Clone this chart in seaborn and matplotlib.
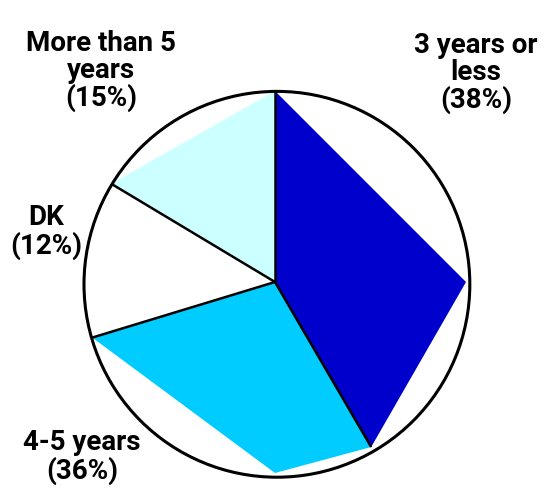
import numpy as np
import matplotlib
matplotlib.use("Agg")
import matplotlib.pyplot as plt
from matplotlib.patches import Circle
import seaborn as sns

# ---- data ----
categories = ["3 years or less", "4-5 years", "DK", "More than 5 years"]
label_names = ["3 years or\nless", "4-5 years", "DK", "More than 5\nyears"]
label_pct = [38, 36, 12, 15]
# wedge sizes as drawn in the picture (share of the full circle, %)
drawn_shares = [41.6, 28.7, 13.3, 16.4]
colors = ["#0000CC", "#00CCFF", "#FFFFFF", "#CCFFFF"]

sns.set_theme(style="white")
plt.rcParams["font.family"] = ["Roboto", "DejaVu Sans"]

W, H, DPI = 550, 488, 100
fig = plt.figure(figsize=(W / DPI, H / DPI), dpi=DPI)
ax = fig.add_axes([0, 0, 1, 1])
R_PX = 191.0
cx_px, cy_px = 275.0, 282.0
ax.set_xlim(-cx_px / R_PX, (W - cx_px) / R_PX)
ax.set_ylim(-(H - cy_px) / R_PX, cy_px / R_PX)
ax.set_axis_off()

def pt(theta_deg):
    # clockwise from top
    t = np.deg2rad(theta_deg)
    return np.sin(t), np.cos(t)

fracs = np.array(drawn_shares) / np.sum(drawn_shares)
bounds = np.concatenate([[0], np.cumsum(fracs) * 360])

for i, col in enumerate(colors):
    a0, a1 = bounds[i], bounds[i + 1]
    angs = [a0] + [q for q in (90, 180, 270) if a0 < q < a1] + [a1]
    xs = [0] + [pt(a)[0] for a in angs]
    ys = [0] + [pt(a)[1] for a in angs]
    ax.fill(xs, ys, color=col, lw=0, zorder=1)

for a in bounds[:-1]:
    x, y = pt(a)
    ax.plot([0, x], [0, y], color="black", lw=1.8, zorder=2, solid_capstyle="butt")

ax.add_patch(Circle((0.01, -0.012), 1.01, fill=False, ec="black", lw=2.2, zorder=3))

# label positions (pixel centers)
label_pos = [(476, 73), (82, 457), (46, 232), (101, 71)]
for name, pct, (px, py) in zip(label_names, label_pct, label_pos):
    fig.text(px / W, 1 - py / H, f"{name}\n({pct}%)", ha="center", va="center",
             multialignment="center", fontsize=20, fontweight="bold",
             color="black", linespacing=1.0)

fig.savefig("out.png", dpi=DPI)
